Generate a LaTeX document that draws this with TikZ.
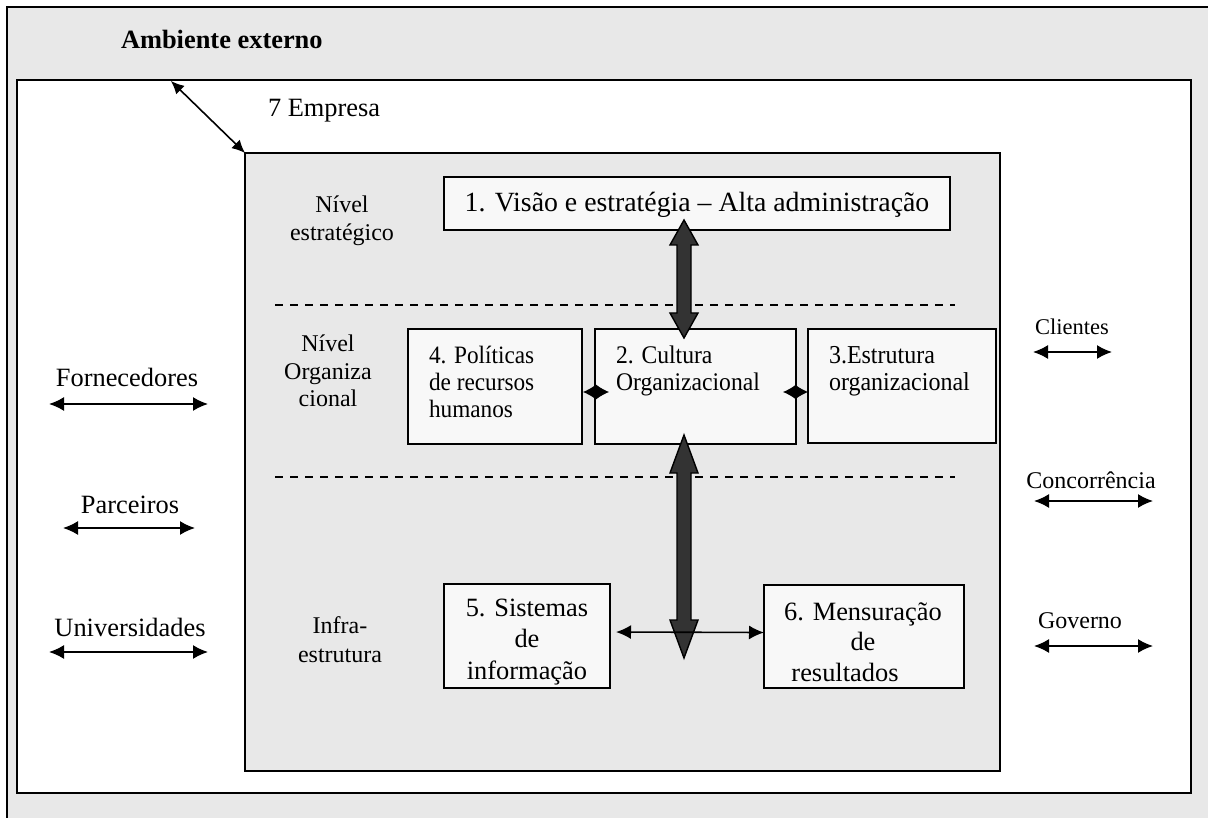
\documentclass[tikz,border=0pt]{standalone}
\usepackage{fontspec}
\setmainfont{Liberation Serif}
\newfontfamily\narrowserif[FakeStretch=0.93]{Liberation Serif}
\usetikzlibrary{arrows.meta,calc}
\definecolor{envgray}{HTML}{E8E8E8}
\definecolor{boxfill}{HTML}{F8F8F8}
\definecolor{fatgray}{HTML}{333333}
% several lines of text (size, line distance, column), first baseline = node baseline
\newcommand\mlines[4]{{\fontsize{#1}{#2}\selectfont\begin{tabular}[t]{@{}#3@{}}#4\end{tabular}}}
% broad two-headed block arrow between two coordinates (vertical), head length #3
\newcommand\fatarrow[3]{%
  \filldraw[fat] (#1) -- ($(#1)+(14,#3)$) -- ($(#1)+(7,#3)$) -- ($(#2)+(7,-#3)$)
    -- ($(#2)+(14,-#3)$) -- (#2) -- ($(#2)+(-14,-#3)$) -- ($(#2)+(-7,-#3)$)
    -- ($(#1)+(-7,#3)$) -- ($(#1)+(-14,#3)$) -- cycle;}
\begin{document}
\begin{tikzpicture}[x=1pt,y=-1pt,
  every node/.style={font=\fontsize{26.4}{28}\selectfont, inner sep=0pt, outer sep=0pt},
  small/.style={font=\fontsize{24}{28}\selectfont},
  frame/.style={draw=black, line width=1.8pt, anchor=north west},
  box/.style={draw=black, line width=1.6pt, fill=boxfill, anchor=north west},
  txt/.style={anchor=base},
  link/.style={line width=1.6pt, {Latex[length=15pt,width=14pt]}-{Latex[length=15pt,width=14pt]}},
  smalllink/.style={line width=1.6pt, {Latex[length=13pt,width=12pt]}-{Latex[length=13pt,width=12pt]}},
  joint/.style={line width=1pt, {Latex[length=13pt,width=15pt]}-{Latex[length=13pt,width=15pt]}},
  fat/.style={draw=black, line width=1.4pt, fill=fatgray},
  levelsep/.style={line width=1.4pt, dash pattern=on 8pt off 7pt}]

\useasboundingbox (0,0) rectangle (1208,818);
\clip (0,0) rectangle (1208,818);

% environment, company area and core of the company
\node[frame, fill=envgray, minimum width=1230pt, minimum height=840pt] (amb) at (7,7) {};
\node[frame, fill=white, minimum width=1174pt, minimum height=713pt] (emp) at (17,80) {};
\node[frame, fill=envgray, minimum width=755pt, minimum height=618pt] (core) at (245,153) {};

\node[anchor=base west] (tamb) at (121,49) {\bfseries Ambiente externo};
\node[anchor=base west] (temp) at (268,117) {7 Empresa};
\coordinate (ea) at (171,81);
\draw[smalllink] (ea) -- (core.north west);

% level separators
\coordinate (s1a) at (275,305); \coordinate (s1b) at (955,305);
\coordinate (s2a) at (275,477); \coordinate (s2b) at (955,477);
\draw[levelsep] (s1a) -- (s1b);
\draw[levelsep] (s2a) -- (s2b);

% level names
\node[txt] (lv1) at (342,213) {\mlines{24}{28}{c}{Nível\\estratégico}};
\node[txt] (lv2) at (328,352) {\mlines{24}{27.5}{c}{Nível\\Organiza\\cional}};
\node[txt] (lv3) at (340,633) {\mlines{24}{29}{c}{Infra-\\estrutura}};

% boxes
\node[box, minimum width=506pt, minimum height=53pt] (b1) at (444,177) {};
\node[box, minimum width=174pt, minimum height=115pt] (b4) at (408,329) {};
\node[box, minimum width=201pt, minimum height=115pt] (b2) at (595,329) {};
\node[box, minimum width=188pt, minimum height=114pt] (b3) at (808,329) {};
\node[box, minimum width=166pt, minimum height=104pt] (b5) at (444,584) {};
\node[box, minimum width=200pt, minimum height=103pt] (b6) at (764,585) {};

\node[txt, font=\fontsize{27.8}{30}\selectfont] (t1) at (697,212) {1. Visão e estratégia – Alta administração};
\node[anchor=base west] (t4) at (429,363) {\narrowserif\mlines{25}{27.5}{l}{4. Políticas\\de recursos\\humanos}};
\node[anchor=base west] (t2) at (616,363) {\narrowserif\mlines{25.4}{28}{l}{2. Cultura\\Organizacional}};
\node[anchor=base west] (t3) at (829,363) {\narrowserif\mlines{25.8}{28}{l}{3.Estrutura\\organizacional}};
\node[txt] (t5) at (527,616) {\mlines{26.4}{31.5}{c}{5. Sistemas\\de\\informação}};
\node[txt] (t6) at (863,620) {\mlines{26.4}{30.5}{c}{6. Mensuração\\de\\resultados\hspace*{36pt}}};

% block arrows
\coordinate (u1) at (684,220); \coordinate (u2) at (684,338);
\coordinate (d1) at (684,435); \coordinate (d2) at (684,658);
\fatarrow{u1}{u2}{25}
\fatarrow{d1}{d2}{38}

% joints between the organisational boxes
\coordinate (j1a) at (583,392); \coordinate (j1b) at (609,392);
\coordinate (j2a) at (783,392); \coordinate (j2b) at (808,392);
\draw[joint] (j1a) -- (j1b);
\draw[joint] (j2a) -- (j2b);

% link between information systems and measurement
\draw[link, shorten <=6pt] ([yshift=4pt]b5.east) -- ([yshift=4pt]b6.west);

% external actors
\node[txt] (forn) at (127,387) {Fornecedores};
\node[txt] (parc) at (130,513) {Parceiros};
\node[txt] (univ) at (130,636) {Universidades};
\node[txt, font=\fontsize{22.5}{28}\selectfont] (cli) at (1072,335) {Clientes};
\node[txt, small] (conc) at (1091,488) {Concorrência};
\node[txt, small] (gov) at (1080,628) {Governo};

\coordinate (fa) at (49,404);   \coordinate (fb) at (208,404);
\coordinate (pa) at (63,528);   \coordinate (pb) at (195,528);
\coordinate (ua) at (49,652);   \coordinate (ub) at (208,652);
\coordinate (ca) at (1033,352); \coordinate (cb) at (1112,352);
\coordinate (ka) at (1034,501); \coordinate (kb) at (1153,501);
\coordinate (ga) at (1034,646); \coordinate (gb) at (1153,646);
\draw[link] (fa) -- (fb);
\draw[link] (pa) -- (pb);
\draw[link] (ua) -- (ub);
\draw[link] (ca) -- (cb);
\draw[link] (ka) -- (kb);
\draw[link] (ga) -- (gb);
\end{tikzpicture}
\end{document}
